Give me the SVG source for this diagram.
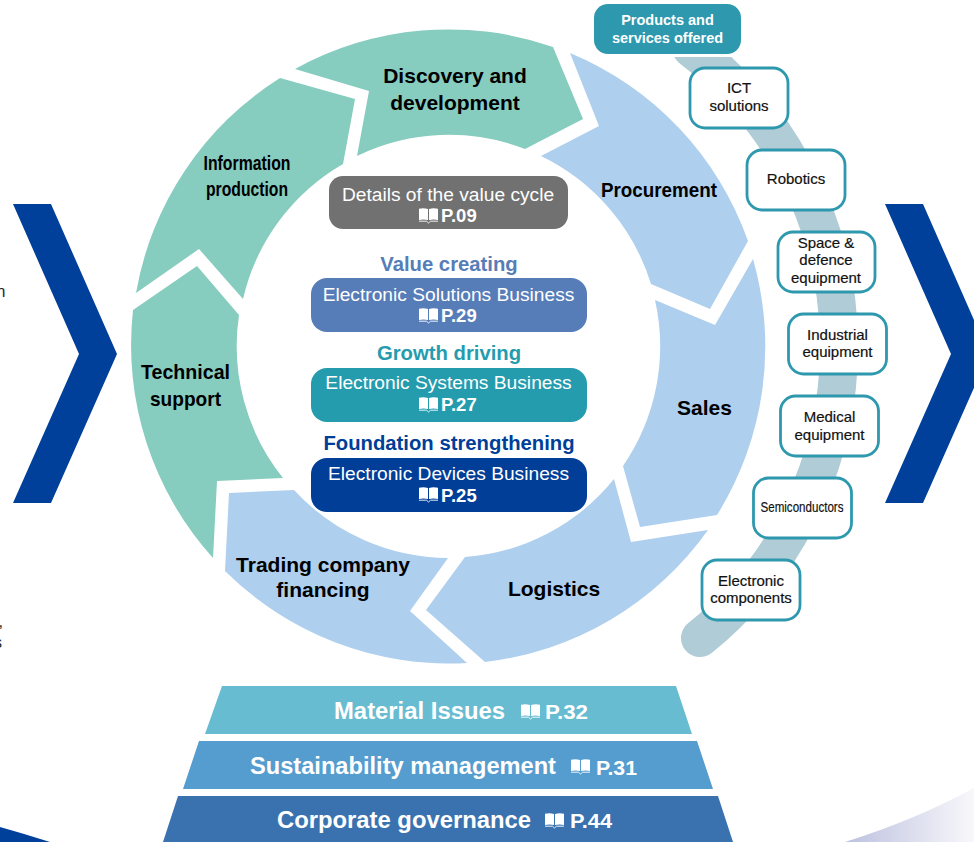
<svg xmlns="http://www.w3.org/2000/svg" width="974" height="842" viewBox="0 0 974 842">
<style>
text{font-family:"Liberation Sans",Arial,sans-serif}
.seg{font-size:21px;font-weight:700;fill:#000;text-anchor:middle}
.green{fill:#86CCBF}
.blue{fill:#AECFEE}
.biz{font-size:19.200px;fill:#fff;text-anchor:middle}
.pg{font-size:18.500px;font-weight:700;fill:#fff}
.head{font-size:20.300px;font-weight:700;text-anchor:middle}
.box{fill:#fff;stroke:#2E98AE;stroke-width:2.800}
.nt{font-size:15px;fill:#111;text-anchor:middle;stroke:#111;stroke-width:.2}
.base{font-weight:700;fill:#fff}
.edge{font-size:16px;fill:#222}
</style>
<defs>
<g id="book">
<path fill="#fff" d="M0 .8Q4.500-.3 9 1V12Q4.500 10.800 0 12ZM10 1Q14.500-.3 19 .8V12Q14.500 10.800 10 12Z"/>
<path fill="none" stroke="#fff" stroke-width="1" opacity=".9" d="M0 13.200H7.500L9.500 15L11.500 13.200H19"/>
</g>
<linearGradient id="fade" x1="0" x2="1" y1="0" y2="0">
<stop offset="0" stop-color="#BDC1DF"/>
<stop offset="1" stop-color="#F8F8FB"/>
</linearGradient>
<clipPath id="below"><rect x="600" y="57" width="300" height="620"/></clipPath>
</defs>
<rect width="974" height="842" fill="#fff"/>

<g id="page-edge">
<text class="edge" x="5.500" y="297" text-anchor="end">n</text>
<text class="edge" x="3" y="627" text-anchor="end">,</text>
<text class="edge" x="2" y="648" text-anchor="end">s</text>
<path fill="#00409A" d="M0 827Q25 834 50 842H0Z"/>
<path fill="url(#fade)" d="M845 842Q915 820 974 788V842Z"/>
</g>

<g id="chevron-left"><path fill="#00409A" d="M13 204H51L117 354L51 503H13L79 354Z"/></g>
<g id="chevron-right"><path fill="#00409A" d="M885 204H923L989 354L923 503H885L951 354Z"/></g>

<g id="connectors">
<path clip-path="url(#below)" fill="none" stroke="#AFCCD7" stroke-width="38" stroke-linecap="round" d="M691 48A375 375 0 0 1 700 638"/>
</g>

<g id="seg-discovery">
<path class="green" d="M295 69A318 318 0 0 1 553 47L583 119L525 149A211 211 0 0 0 357 156L369 91Z"/>
<text class="seg"><tspan x="455" y="83">Discovery and</tspan><tspan x="455" y="110">development</tspan></text>
</g>
<g id="seg-procurement">
<path class="blue" d="M570 53A318 318 0 0 1 748 241L710 309L651 284A211 211 0 0 0 541 156L599 126Z"/>
<text class="seg" x="659" y="197" textLength="116" lengthAdjust="spacingAndGlyphs">Procurement</text>
</g>
<g id="seg-sales">
<path class="blue" d="M753 259A318 318 0 0 1 717 515L640 527L623 466A211 211 0 0 0 655 300L715 325Z"/>
<text class="seg" x="704.500" y="415">Sales</text>
</g>
<g id="seg-logistics">
<path class="blue" d="M614 479L631 542L708 530A318 318 0 0 1 485 662L426 610L465 557A211 211 0 0 0 614 479Z"/>
<text class="seg" x="554" y="596">Logistics</text>
</g>
<g id="seg-trading">
<path class="blue" d="M229 493L294 490A211 211 0 0 0 448 558L410 611L467 663A318 318 0 0 1 225 571Z"/>
<text class="seg"><tspan x="323" y="572">Trading company</tspan><tspan x="323" y="597">financing</tspan></text>
</g>
<g id="seg-technical">
<path class="green" d="M133 310L197 266L239 315A211 211 0 0 0 283 478L217 481L213 558A318 318 0 0 1 133 310Z"/>
<text class="seg" x="185.500" y="379" textLength="89" lengthAdjust="spacingAndGlyphs">Technical</text>
<text class="seg" x="185.500" y="406" textLength="71" lengthAdjust="spacingAndGlyphs">support</text>
</g>
<g id="seg-information">
<path class="green" d="M136 293A318 318 0 0 1 280 78L355 99L343 164A211 211 0 0 0 243 299L199 249Z"/>
<text class="seg" x="247" y="170" textLength="87" lengthAdjust="spacingAndGlyphs">Information</text>
<text class="seg" x="247" y="196" textLength="82" lengthAdjust="spacingAndGlyphs">production</text>
</g>

<g id="details">
<rect x="329" y="176" width="239" height="53" rx="14" fill="#717171"/>
<text class="biz" x="448" y="201">Details of the value cycle</text>
<use href="#book" x="419" y="208"/>
<text class="pg" x="441" y="222">P.09</text>
</g>
<g id="value-creating">
<text class="head" x="449" y="271" fill="#567DB8">Value creating</text>
<rect x="311" y="278" width="276" height="54" rx="16" fill="#567DB8"/>
<text class="biz" x="448.500" y="301">Electronic Solutions Business</text>
<use href="#book" x="419" y="308"/>
<text class="pg" x="441" y="322">P.29</text>
</g>
<g id="growth-driving">
<text class="head" x="449" y="360" fill="#259CAE">Growth driving</text>
<rect x="311" y="368" width="276" height="54" rx="16" fill="#259CAE"/>
<text class="biz" x="448.500" y="389">Electronic Systems Business</text>
<use href="#book" x="419" y="397"/>
<text class="pg" x="441" y="411">P.27</text>
</g>
<g id="foundation">
<text class="head" x="449" y="450" fill="#003E98">Foundation strengthening</text>
<rect x="311" y="458" width="276" height="54" rx="16" fill="#003E98"/>
<text class="biz" x="448.500" y="480">Electronic Devices Business</text>
<use href="#book" x="419" y="487"/>
<text class="pg" x="441" y="502">P.25</text>
</g>

<g id="products">
<rect x="594" y="4" width="147" height="50" rx="14" fill="#2E98AE"/>
<text x="667.500" y="25" font-size="14.500" font-weight="700" fill="#fff" text-anchor="middle">Products and</text>
<text x="667.500" y="43" font-size="14.500" font-weight="700" fill="#fff" text-anchor="middle">services offered</text>
</g>
<g id="n-ict"><rect class="box" x="690" y="68" width="98" height="60" rx="15"/><text class="nt"><tspan x="739" y="93">ICT</tspan><tspan x="739" y="111">solutions</tspan></text></g>
<g id="n-robotics"><rect class="box" x="747" y="150" width="98" height="60" rx="15"/><text class="nt" x="796" y="184">Robotics</text></g>
<g id="n-space"><rect class="box" x="778" y="232" width="97" height="60" rx="15"/><text class="nt"><tspan x="826" y="248">Space &amp;</tspan><tspan x="826" y="265">defence</tspan><tspan x="826" y="283">equipment</tspan></text></g>
<g id="n-industrial"><rect class="box" x="788.500" y="314" width="98" height="60" rx="15"/><text class="nt"><tspan x="837.500" y="340">Industrial</tspan><tspan x="837.500" y="357">equipment</tspan></text></g>
<g id="n-medical"><rect class="box" x="780.500" y="396" width="98" height="60" rx="15"/><text class="nt"><tspan x="829.500" y="422">Medical</tspan><tspan x="829.500" y="440">equipment</tspan></text></g>
<g id="n-semi"><rect class="box" x="753.500" y="478" width="98" height="60" rx="15"/><text class="nt" x="802" y="512" font-size="14" textLength="83" lengthAdjust="spacingAndGlyphs">Semiconductors</text></g>
<g id="n-components"><rect class="box" x="702" y="560" width="98" height="60" rx="15"/><text class="nt"><tspan x="751" y="586">Electronic</tspan><tspan x="751" y="603">components</tspan></text></g>

<g id="material">
<path fill="#68BCD2" d="M222 686H676L692 734H205Z"/>
<text class="base" x="334" y="719" font-size="23" textLength="171" lengthAdjust="spacingAndGlyphs">Material Issues</text>
<use href="#book" x="521" y="704"/>
<text class="base" x="545" y="719" font-size="21" textLength="43" lengthAdjust="spacingAndGlyphs">P.32</text>
</g>
<g id="sustainability">
<path fill="#559CCF" d="M199 741H697L713 789H183Z"/>
<text class="base" x="250" y="774" font-size="23" textLength="306" lengthAdjust="spacingAndGlyphs">Sustainability management</text>
<use href="#book" x="571" y="759"/>
<text class="base" x="596" y="775" font-size="21" textLength="41" lengthAdjust="spacingAndGlyphs">P.31</text>
</g>
<g id="governance">
<path fill="#3A72B0" d="M178 796H718L733 842H163Z"/>
<text class="base" x="277" y="828" font-size="23" textLength="254" lengthAdjust="spacingAndGlyphs">Corporate governance</text>
<use href="#book" x="545" y="813"/>
<text class="base" x="570" y="828" font-size="21" textLength="42" lengthAdjust="spacingAndGlyphs">P.44</text>
</g>
</svg>
